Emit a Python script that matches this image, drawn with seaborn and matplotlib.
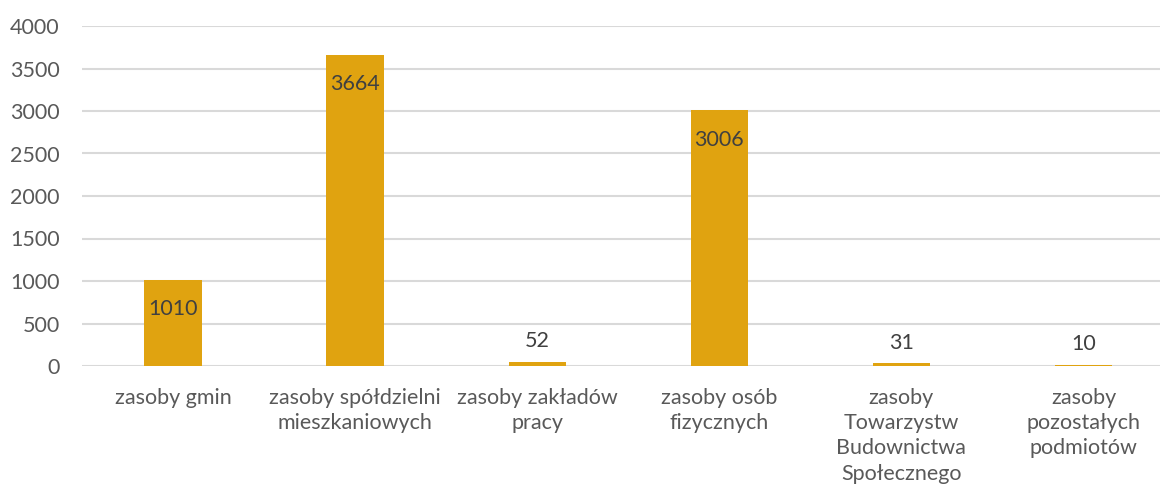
import matplotlib
matplotlib.use("Agg")
import matplotlib.pyplot as plt
import seaborn as sns
import pandas as pd

# data
categories = [
    "zasoby gmin",
    "zasoby spółdzielni\nmieszkaniowych",
    "zasoby zakładów\npracy",
    "zasoby osób\nfizycznych",
    "zasoby\nTowarzystw\nBudownictwa\nSpołecznego",
    "zasoby\npozostałych\npodmiotów",
]
values = [1010, 3664, 52, 3006, 31, 10]
y_ticks = [0, 500, 1000, 1500, 2000, 2500, 3000, 3500, 4000]

bar_color = "#e0a310"
grid_color = "#d9d9d9"
label_color = "#404040"
tick_color = "#595959"
fsize = 15.5

sns.set_theme(style="white")
plt.rcParams["font.family"] = ["Lato", "DejaVu Sans"]

df = pd.DataFrame({"kategoria": categories, "liczba": values})

fig = plt.figure(figsize=(11.6, 4.94), dpi=100)
ax = fig.add_axes([82 / 1160, 1 - 366 / 494, (1160 - 82) / 1160, 340 / 494])

sns.barplot(data=df, x="kategoria", y="liczba", color=bar_color,
            width=0.315, saturation=1, linewidth=0, ax=ax, zorder=3)

ax.set_ylim(0, 4000)
ax.set_xlim(-0.5, 5.42)
ax.set_yticks(y_ticks)
ax.yaxis.grid(True, color=grid_color, linewidth=1.5, zorder=0)
ax.set_axisbelow(True)
for s in ax.spines.values():
    s.set_visible(False)
ax.set_xlabel("")
ax.set_ylabel("")
ax.tick_params(axis="y", length=0, pad=16, labelsize=fsize, labelcolor=tick_color)
ax.tick_params(axis="x", length=0, pad=16, labelsize=fsize, labelcolor=tick_color)
for lbl in ax.get_xticklabels():
    lbl.set_linespacing(1.32)
    lbl.set_verticalalignment("top")

# value labels: inside end for tall bars, above for the small ones
for i, v in enumerate(values):
    if v > 500:
        ax.annotate(str(v), (i, v), xytext=(0, -21), textcoords="offset points",
                    ha="center", va="center", fontsize=fsize, color=label_color)
    else:
        ax.annotate(str(v), (i, v), xytext=(0, 15), textcoords="offset points",
                    ha="center", va="center", fontsize=fsize, color=label_color)

fig.savefig("out.png", dpi=100)
plt.close(fig)
